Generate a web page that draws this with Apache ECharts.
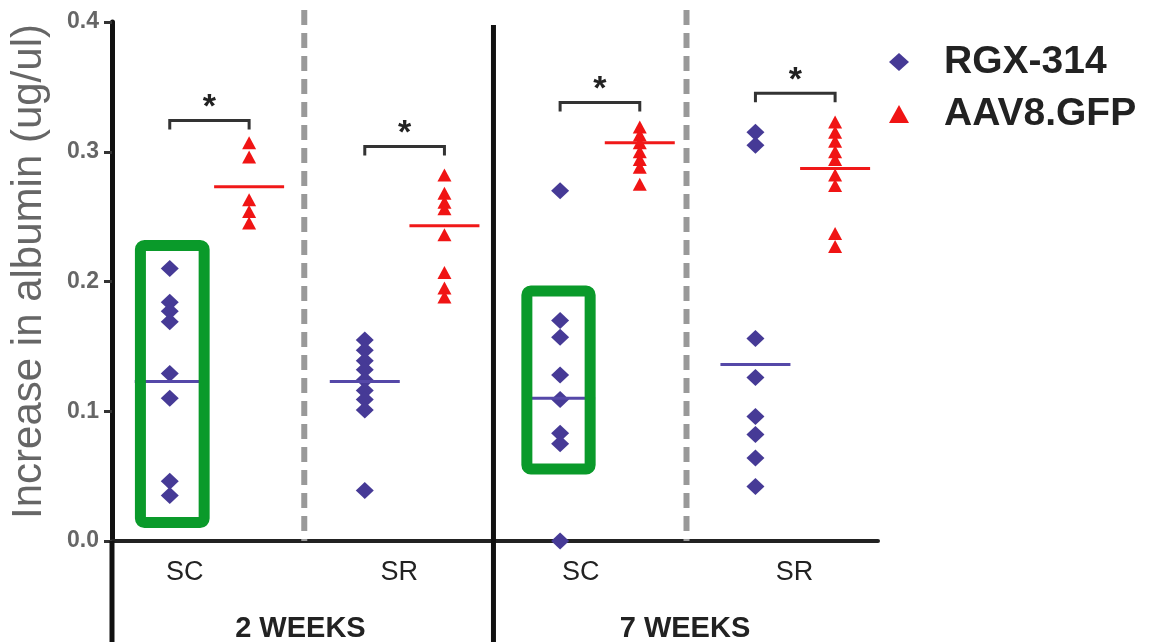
<!DOCTYPE html>
<html>
<head>
<meta charset="utf-8">
<title>albumin</title>
<script src="https://cdn.jsdelivr.net/npm/echarts@6/dist/echarts.min.js"></script>
<style>
html,body{margin:0;padding:0;background:#fff;}
#main{width:1153px;height:642px;}
</style>
</head>
<body>
<div id="main"></div>
<script>
// values (ug/ul)
var rgx2wSC = [0.210, 0.184, 0.177, 0.169, 0.129, 0.110, 0.046, 0.035];
var aav2wSC = [0.307, 0.296, 0.263, 0.254, 0.245];
var rgx2wSR = [0.155, 0.147, 0.139, 0.132, 0.124, 0.116, 0.109, 0.101, 0.039];
var aav2wSR = [0.282, 0.268, 0.261, 0.256, 0.236, 0.207, 0.195, 0.188];
var rgx7wSC = [0.270, 0.170, 0.157, 0.128, 0.109, 0.083, 0.075, 0.0];
var aav7wSC = [0.319, 0.313, 0.307, 0.300, 0.294, 0.288, 0.275];
var rgx7wSR = [0.315, 0.305, 0.156, 0.126, 0.096, 0.082, 0.064, 0.042];
var aav7wSR = [0.323, 0.315, 0.308, 0.300, 0.294, 0.282, 0.274, 0.237, 0.227];

var rgxMean = [0.123, 0.123, 0.110, 0.136];
var aavMean = [0.273, 0.243, 0.307, 0.287];
var bracketTop = [0.324, 0.304, 0.338, 0.345];

var groupNames = ['SC', 'SR', 'SC', 'SR'];
var periodNames = ['2 WEEKS', '7 WEEKS'];

// layout on the x scale (0..100)
var rgxX = [7.54, 33.0, 58.5, 84.0];
var aavX = [17.9, 43.4, 68.9, 94.4];
var groupLabelX = [9.5, 37.5, 61.2, 89.1];
var periodLabelX = [24.6, 74.8];
var dividers = [[25.1, 0], [49.8, 1], [75.0, 0], [0, 2]];
var boxes = [[3.71, 0.2277, 12.03, 0.0143], [54.16, 0.1927, 62.42, 0.0555]];

var rgxAll = [rgx2wSC, rgx2wSR, rgx7wSC, rgx7wSR];
var aavAll = [aav2wSC, aav2wSR, aav7wSC, aav7wSR];

var FONT = "'Liberation Sans', Arial, sans-serif";

function pts(list, xs){
	var out = [];
	for(var i=0;i<list.length;i++){
		for(var j=0;j<list[i].length;j++){
			out.push([xs[i], list[i][j]]);
		}
	}
	return out;
}

var myChart = echarts.init(document.getElementById('main'));
var option = {
	backgroundColor: '#fff',
	animation: false,
	grid: {left: 109, right: 275, top: 22, bottom: 101},
	legend: {
		orient: 'vertical',
		left: 884,
		top: 37,
		itemWidth: 20,
		itemHeight: 18,
		itemGap: 12,
		textStyle: {fontSize: 39, fontWeight: 'bold', color: '#222', fontFamily: FONT, lineHeight: 40, padding: [0, 0, 0, 30]},
		data: [{name: 'RGX-314', icon: 'diamond'}, {name: 'AAV8.GFP', icon: 'triangle'}]
	},
	xAxis: {
		type: 'value', min: 0, max: 100,
		axisLine: {show: true, onZero: true, lineStyle: {color: '#222', width: 4}},
		axisTick: {show: false}, axisLabel: {show: false}, splitLine: {show: false}
	},
	yAxis: {
		type: 'value', min: 0, max: 0.4, interval: 0.1,
		name: 'Increase in albumin (ug/ul)',
		nameLocation: 'middle',
		nameGap: 62,
		nameTextStyle: {fontSize: 42, color: '#666', fontFamily: FONT, padding: [0, 0, 0, 20]},
		axisLine: {show: true, lineStyle: {color: '#111', width: 5}},
		axisTick: {show: true, length: 8, lineStyle: {color: '#333', width: 3}},
		axisLabel: {margin: 13, fontSize: 23, fontWeight: 'bold', color: '#666', fontFamily: FONT,
			formatter: function(v){ return v.toFixed(1); }},
		splitLine: {show: false}
	},
	series: [
		{
			// dividers and left axis extension
			type: 'custom', z: 1, clip: false, silent: true,
			data: dividers,
			renderItem: function(params, api){
				var x = api.value(0), kind = api.value(1);
				var top = api.coord([x, 0.4]), bot = api.coord([x, 0]);
				if(kind == 0){
					return {type: 'line', shape: {x1: top[0], y1: 10, x2: top[0], y2: bot[1]},
						style: {stroke: '#999', lineWidth: 6, lineDash: [15, 8]}};
				}
				if(kind == 1){
					return {type: 'line', shape: {x1: top[0], y1: 25, x2: top[0], y2: 642},
						style: {stroke: '#111', lineWidth: 5}};
				}
				return {type: 'line', shape: {x1: bot[0], y1: bot[1], x2: bot[0], y2: 642},
					style: {stroke: '#111', lineWidth: 5}};
			}
		},
		{
			name: 'RGX-314', type: 'scatter', z: 3,
			symbol: 'diamond', symbolSize: [18, 17],
			itemStyle: {color: '#463a96', opacity: 1},
			data: pts(rgxAll, rgxX)
		},
		{
			name: 'AAV8.GFP', type: 'scatter', z: 3,
			symbol: 'triangle', symbolSize: [14, 13],
			itemStyle: {color: '#f01414', opacity: 1},
			data: pts(aavAll, aavX)
		},
		{
			// mean lines
			type: 'custom', z: 4, silent: true,
			data: rgxX.map(function(x, i){ return [x, rgxMean[i], 0]; })
				.concat(aavX.map(function(x, i){ return [x, aavMean[i], 1]; })),
			renderItem: function(params, api){
				var p = api.coord([api.value(0), api.value(1)]);
				return {type: 'line', shape: {x1: p[0]-35, y1: p[1], x2: p[0]+35, y2: p[1]},
					style: {stroke: api.value(2) == 0 ? '#5548a8' : '#f01818', lineWidth: 3}};
			}
		},
		{
			// significance brackets
			type: 'custom', z: 4, silent: true, clip: false,
			data: bracketTop.map(function(y, i){ return [rgxX[i], aavX[i], y]; }),
			renderItem: function(params, api){
				var a = api.coord([api.value(0), api.value(2)]);
				var b = api.coord([api.value(1), api.value(2)]);
				return {type: 'group', children: [
					{type: 'polyline', shape: {points: [[a[0], a[1]+9], [a[0], a[1]], [b[0], b[1]], [b[0], b[1]+9]]},
						style: {stroke: '#333', lineWidth: 3, fill: null}},
					{type: 'text', x: (a[0]+b[0])/2, y: a[1]-13,
						style: {text: '*', fontSize: 34, fontWeight: 'bold', fill: '#222', fontFamily: FONT,
							align: 'center', verticalAlign: 'middle'}}
				]};
			}
		},
		{
			// category labels under the axis
			type: 'custom', z: 4, silent: true, clip: false,
			data: groupLabelX.map(function(x, i){ return [x, i, 0]; })
				.concat(periodLabelX.map(function(x, i){ return [x, i, 1]; })),
			renderItem: function(params, api){
				var p = api.coord([api.value(0), 0]);
				var idx = api.value(1), big = api.value(2) == 1;
				return {type: 'text', x: p[0], y: p[1] + (big ? 88 : 32),
					style: {text: big ? periodNames[idx] : groupNames[idx],
						fontSize: big ? 29 : 27, fontWeight: big ? 'bold' : 'normal',
						fill: '#222', fontFamily: FONT, align: 'center', verticalAlign: 'middle'}};
			}
		},
		{
			// green highlight boxes
			type: 'custom', z: 5, silent: true,
			data: boxes,
			renderItem: function(params, api){
				var a = api.coord([api.value(0), api.value(1)]);
				var b = api.coord([api.value(2), api.value(3)]);
				return {type: 'rect', shape: {x: a[0], y: a[1], width: b[0]-a[0], height: b[1]-a[1], r: 4},
					style: {stroke: '#0a9a2a', lineWidth: 11, fill: null}};
			}
		}
	]
};
myChart.setOption(option);
</script>
</body>
</html>
